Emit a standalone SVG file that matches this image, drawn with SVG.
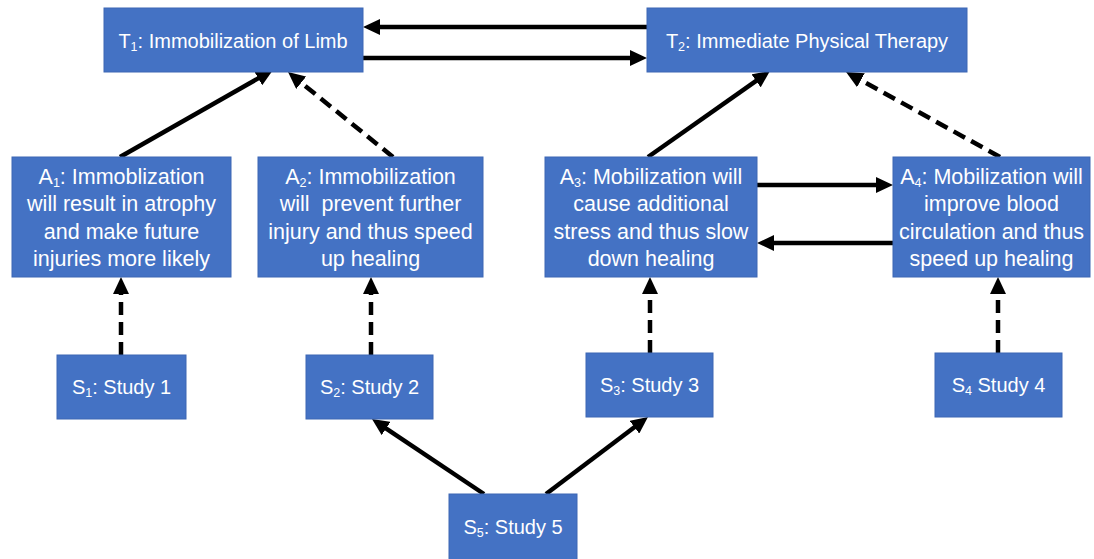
<svg xmlns="http://www.w3.org/2000/svg" width="1094" height="559" viewBox="0 0 1094 559">
<style>
.box{fill:#4472C4;stroke:#3C67B4;stroke-width:1}
.t{font-family:"Liberation Sans",Arial,sans-serif;font-size:20px;fill:#fff;text-anchor:middle}
.a{font-size:21.5px}
.sub{font-size:12.5px}
.c{stroke:#000;stroke-width:4.5;fill:none;marker-end:url(#ah)}
.d{stroke-dasharray:13,7}
</style>
<defs>
<marker id="ah" markerUnits="userSpaceOnUse" markerWidth="18" markerHeight="16" viewBox="0 0 18 16" refX="7" refY="8" orient="auto">
<path d="M0,0 L17,8 L0,16 z" fill="#000"/>
</marker>
</defs>
<g id="connectors">
<line class="c" x1="647" y1="27" x2="373" y2="27"/>
<line class="c" x1="363" y1="58" x2="637" y2="58"/>
<line class="c" x1="120" y1="157" x2="264.3" y2="74.9"/>
<line class="c d" x1="393" y1="157" x2="295.8" y2="78.3"/>
<line class="c" x1="648" y1="157" x2="761.8" y2="76.8"/>
<line class="c d" x1="1000" y1="157" x2="854.8" y2="76.8"/>
<line class="c" x1="757" y1="185" x2="883" y2="185"/>
<line class="c" x1="893" y1="243" x2="767" y2="243"/>
<line class="c d" x1="121" y1="355" x2="121" y2="287"/>
<line class="c d" x1="371" y1="355" x2="371" y2="287"/>
<line class="c d" x1="650" y1="353" x2="650" y2="287"/>
<line class="c d" x1="998" y1="353" x2="998" y2="287"/>
<line class="c" x1="484" y1="494" x2="380.3" y2="424.6"/>
<line class="c" x1="546" y1="494" x2="640" y2="423"/>
</g>
<g id="T1"><rect class="box" x="104" y="8" width="259" height="64"/>
<text class="t" x="233" y="48">T<tspan class="sub" baseline-shift="-3">1</tspan>: Immobilization of Limb</text></g>
<g id="T2"><rect class="box" x="647" y="8" width="320" height="64"/>
<text class="t" x="807" y="48">T<tspan class="sub" baseline-shift="-3">2</tspan>: Immediate Physical Therapy</text></g>
<g id="A1"><rect class="box" x="12" y="157" width="219" height="120"/>
<text class="t a" x="121.5" y="184">A<tspan class="sub" baseline-shift="-3">1</tspan>: Immoblization</text>
<text class="t a" x="121.5" y="211">will result in atrophy</text>
<text class="t a" x="121.5" y="239">and make future</text>
<text class="t a" x="121.5" y="266">injuries more likely</text></g>
<g id="A2"><rect class="box" x="258" y="157" width="225" height="120"/>
<text class="t a" x="370.5" y="184">A<tspan class="sub" baseline-shift="-3">2</tspan>: Immobilization</text>
<text class="t a" x="370.5" y="211" xml:space="preserve">will  prevent further</text>
<text class="t a" x="370.5" y="239">injury and thus speed</text>
<text class="t a" x="370.5" y="266">up healing</text></g>
<g id="A3"><rect class="box" x="545" y="157" width="212" height="120"/>
<text class="t a" x="651" y="184">A<tspan class="sub" baseline-shift="-3">3</tspan>: Mobilization will</text>
<text class="t a" x="651" y="211">cause additional</text>
<text class="t a" x="651" y="239">stress and thus slow</text>
<text class="t a" x="651" y="266">down healing</text></g>
<g id="A4"><rect class="box" x="893" y="157" width="197" height="120"/>
<text class="t a" x="991.5" y="184">A<tspan class="sub" baseline-shift="-3">4</tspan>: Mobilization will</text>
<text class="t a" x="991.5" y="211">improve blood</text>
<text class="t a" x="991.5" y="239">circulation and thus</text>
<text class="t a" x="991.5" y="266">speed up healing</text></g>
<g id="S1"><rect class="box" x="57" y="355" width="129" height="64"/>
<text class="t" x="121.5" y="394">S<tspan class="sub" baseline-shift="-3">1</tspan>: Study 1</text></g>
<g id="S2"><rect class="box" x="306" y="355" width="127" height="64"/>
<text class="t" x="369.5" y="394">S<tspan class="sub" baseline-shift="-3">2</tspan>: Study 2</text></g>
<g id="S3"><rect class="box" x="586" y="353" width="127" height="64"/>
<text class="t" x="649.5" y="392">S<tspan class="sub" baseline-shift="-3">3</tspan>: Study 3</text></g>
<g id="S4"><rect class="box" x="935" y="353" width="127" height="64"/>
<text class="t" x="998.5" y="392">S<tspan class="sub" baseline-shift="-3">4</tspan> Study 4</text></g>
<g id="S5"><rect class="box" x="449" y="494" width="128" height="70"/>
<text class="t" x="513" y="534">S<tspan class="sub" baseline-shift="-3">5</tspan>: Study 5</text></g>
</svg>
